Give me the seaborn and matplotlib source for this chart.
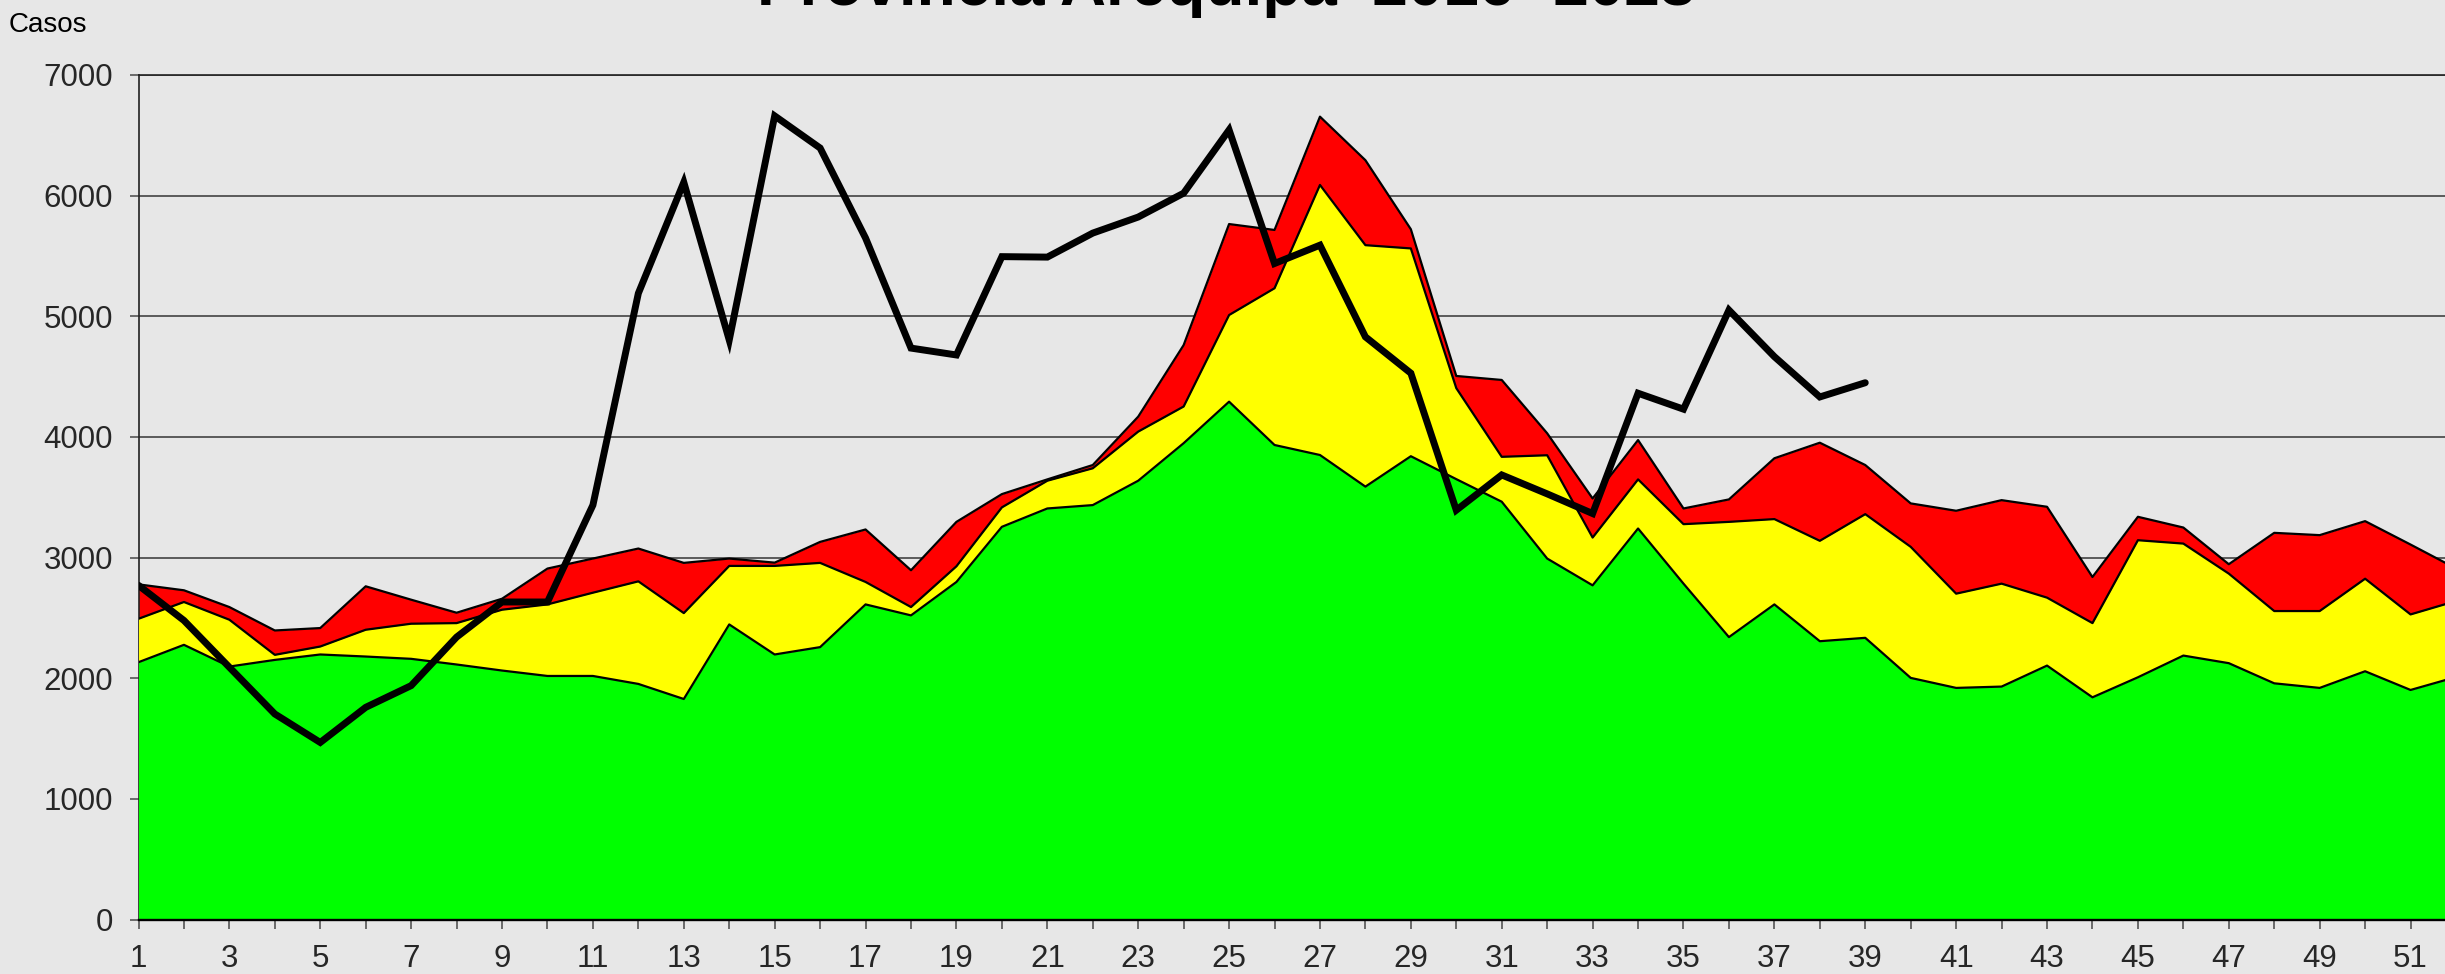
import numpy as np
import pandas as pd
import matplotlib
matplotlib.use("Agg")
import matplotlib.pyplot as plt
import seaborn as sns

# ---------------- data ----------------
weeks = list(range(1, 53))

zona_exito = [2133, 2277, 2097, 2152, 2197, 2180, 2161, 2114, 2064, 2019,
              2019, 1953, 1828, 2446, 2197, 2258, 2612, 2521, 2798, 3255,
              3407, 3435, 3637, 3948, 4292, 3933, 3850, 3588, 3840, 3650,
              3463, 2992, 2770, 3241, 2784, 2341, 2612, 2307, 2335, 2003,
              1920, 1931, 2105, 1842, 2008, 2188, 2125, 1958, 1920, 2058,
              1903, 2010]

zona_seguridad = [2493, 2632, 2485, 2194, 2263, 2402, 2452, 2457, 2568, 2612,
                  2709, 2803, 2540, 2931, 2931, 2956, 2798, 2590, 2928, 3416,
                  3637, 3740, 4044, 4252, 5010, 5232, 6088, 5589, 5562, 4404,
                  3835, 3848, 3166, 3648, 3277, 3296, 3319, 3139, 3360, 3089,
                  2701, 2784, 2668, 2457, 3144, 3116, 2867, 2557, 2557, 2825,
                  2529, 2640]

zona_alarma = [2778, 2729, 2590, 2396, 2416, 2762, 2651, 2543, 2659, 2909,
               2992, 3075, 2956, 2992, 2958, 3130, 3233, 2895, 3296, 3526,
               3648, 3767, 4168, 4761, 5764, 5715, 6654, 6293, 5721, 4505,
               4472, 4030, 3490, 3974, 3407, 3482, 3823, 3952, 3767, 3449,
               3388, 3476, 3421, 2839, 3338, 3249, 2945, 3205, 3186, 3302,
               3108, 2910]

casos_2023 = [2770, 2479, 2091, 1704, 1468, 1759, 1939, 2341, 2632, 2632,
              3435, 5190, 6110, 4803, 6660, 6394, 5648, 4736, 4679, 5494,
              5490, 5689, 5822, 6020, 6544, 5437, 5589, 4829, 4528, 3393,
              3685, 3528, 3365, 4362, 4230, 5051, 4665, 4331, 4449]

y_ticks = [0, 1000, 2000, 3000, 4000, 5000, 6000, 7000]
x_tick_labels = list(range(1, 53, 2))

title_text = "Provincia Arequipa  2016- 2023"
y_label_text = "Casos"

# ---------------- style ----------------
BG = "#E7E7E7"
sns.set_style("white", {"axes.facecolor": BG, "figure.facecolor": BG})
plt.rcParams["font.family"] = ["Liberation Sans", "DejaVu Sans"]

df_zone = pd.DataFrame({"semana": weeks, "exito": zona_exito,
                        "seguridad": zona_seguridad, "alarma": zona_alarma})
df_cases = pd.DataFrame({"semana": weeks[:len(casos_2023)], "casos": casos_2023})

W, H = 2445, 974
fig = plt.figure(figsize=(W / 100, H / 100), dpi=100, facecolor=BG)
left = 138.5 / W
right = 2456 / W
bottom = (H - 919.6) / H
top = (H - 74.9) / H
ax = fig.add_axes([left, bottom, right - left, top - bottom])
ax.set_facecolor(BG)
ax.set_axisbelow(True)

# areas (overlapping, drawn from the largest down)
ax.fill_between(df_zone["semana"], 0, df_zone["alarma"], color="#FF0000", lw=0, zorder=2)
ax.fill_between(df_zone["semana"], 0, df_zone["seguridad"], color="#FFFF00", lw=0, zorder=3)
ax.fill_between(df_zone["semana"], 0, df_zone["exito"], color="#00FF00", lw=0, zorder=4)

for col, z in [("alarma", 5), ("seguridad", 6), ("exito", 7)]:
    sns.lineplot(data=df_zone, x="semana", y=col, ax=ax, color="black",
                 lw=1.6, zorder=z, legend=False)

sns.lineplot(data=df_cases, x="semana", y="casos", ax=ax, color="black",
             lw=5.0, zorder=10, legend=False, solid_joinstyle="miter")

# axes
ax.set_xlim(1, 52)
ax.set_ylim(0, 7000)
ax.set_yticks(y_ticks)
ax.set_yticklabels([str(v) for v in y_ticks])
ax.set_xticks(weeks, minor=True)
ax.set_xticks(x_tick_labels)
ax.set_xticklabels([str(v) for v in x_tick_labels])
ax.set_xlabel("")
ax.set_ylabel("")

ax.grid(axis="y", color="#505050", lw=1.3, zorder=0)
ax.grid(axis="x", visible=False)

ax.tick_params(axis="y", which="major", length=6.5, width=1.2, color="#555555",
               labelsize=22.5, pad=12, left=True)
ax.tick_params(axis="x", which="both", length=6.7, width=1.2, color="#555555",
               bottom=True, direction="out")
ax.tick_params(axis="x", which="major", labelsize=22.5, pad=11)

for s in ["left", "top"]:
    ax.spines[s].set_color("#222222")
    ax.spines[s].set_linewidth(1.2)
ax.spines["bottom"].set_color("black")
ax.spines["bottom"].set_linewidth(1.7)
ax.spines["bottom"].set_zorder(11)
ax.spines["right"].set_visible(False)

# texts
fig.text(757 / W, 1 - 5 / H, title_text, fontsize=46, fontweight="bold",
         ha="left", va="baseline", color="black")
fig.text(9 / W, 1 - 32 / H, y_label_text, fontsize=20, ha="left",
         va="baseline", color="black")

fig.savefig("out.png", dpi=100, facecolor=BG)
